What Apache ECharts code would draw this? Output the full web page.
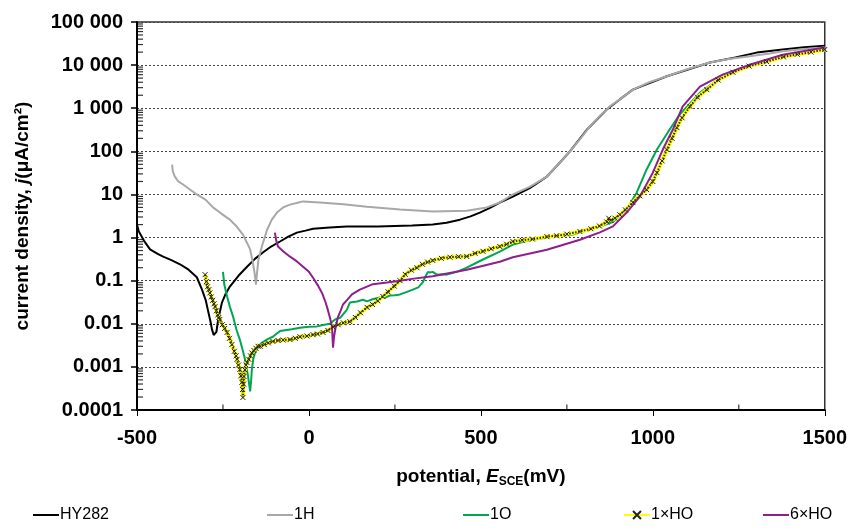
<!DOCTYPE html>
<html><head><meta charset="utf-8">
<script src="https://cdn.jsdelivr.net/npm/echarts@6/dist/echarts.min.js"></script>
<style>html,body{margin:0;padding:0;background:#fff}#c{width:850px;height:531px}</style>
</head><body><div id="c"></div>
<script>
// ---- data (potential mV, current density µA/cm²) ----
const hyE = [-500,-495,-480,-462,-440,-424,-400,-375,-350,-326,-311,-300,-294,-286,-282,-277,-273,-269,-265,-259,-253,-242,-230,-205,-180,-157,-134,-110,-84,-60,-35,-10,12,60,110,200,300,360,400,439,470,497,525,555,593,642,692,730,759,808,866,904,942,1041,1166,1240,1302,1378,1440,1500];
const hyJ = [2.0,1.4,0.85,0.53,0.42,0.36,0.30,0.24,0.18,0.12,0.062,0.035,0.021,0.011,0.0074,0.0055,0.005,0.0065,0.011,0.019,0.031,0.05,0.073,0.13,0.21,0.32,0.45,0.62,0.81,1.05,1.3,1.45,1.6,1.7,1.8,1.8,1.9,2.0,2.2,2.6,3.1,3.8,4.8,6.5,8.9,14,26,55,100,316,930,1600,2700,5500,11500,15000,19500,23000,26000,28000];

const h1E = [-398,-396,-390,-380,-366,-346,-326,-300,-279,-255,-230,-210,-192,-180,-171,-163,-158,-154,-151,-147,-137,-122,-108,-93,-75,-55,-30,-17,32,100,169,265,360,459,517,555,593,642,692,730,759,790,817,845,875,904,942,990,1041,1100,1166,1225,1282,1340,1378,1440,1500];
const h1J = [49,35,26,20,17,13,10,7.5,5,3.6,2.6,1.8,1.17,0.75,0.53,0.26,0.15,0.081,0.15,0.3,0.62,1.5,2.6,3.8,5.0,5.8,6.5,6.9,6.5,5.9,5.2,4.5,4.0,4.2,5.0,6.5,10,15,26,55,100,200,380,650,1100,1600,2700,4000,5500,8000,11500,14000,16000,18500,21000,23500,25700];

const oE = [-250,-246,-238,-230,-221,-210,-201,-193,-186,-177,-171,-168,-166,-162,-157,-147,-137,-120,-105,-84,-50,-26,0,23,45,61,76,92,110,119,140,157,169,185,206,220,235,250,265,285,302,318,331,340,346,352,360,372,390,401,430,459,506,555,593,642,692,767,837,884,924,953,982,1012,1049,1078,1100,1137,1203,1282,1378,1500];
const oJ = [0.16,0.08,0.043,0.025,0.015,0.007,0.0043,0.0025,0.0015,0.0006,0.00027,0.0005,0.00087,0.0015,0.0021,0.003,0.0036,0.0044,0.005,0.0068,0.0075,0.0081,0.0085,0.0087,0.0095,0.01,0.0126,0.014,0.021,0.031,0.033,0.036,0.033,0.037,0.041,0.04,0.045,0.046,0.048,0.055,0.062,0.07,0.091,0.13,0.16,0.155,0.16,0.138,0.14,0.138,0.16,0.2,0.31,0.47,0.69,0.87,1.0,1.17,1.7,2.3,4.5,11,38,110,320,710,1100,2300,5500,10200,15800,23000];

const hoE = [-302,-298,-295,-291,-288,-284,-280,-276,-273,-269,-265,-262,-259,-252,-245,-238,-231,-224,-217,-212,-209,-205,-201,-198,-195,-193,-192,-190,-189,-186,-183,-180,-175,-170,-166,-160,-154,-148,-142,-130,-118,-105,-90,-75,-55,-40,-26,-6,12,25,41,55,70,85,100,119,135,150,169,185,200,215,230,248,265,280,298,314,330,345,360,385,410,435,459,483,506,530,555,575,593,620,650,692,720,750,788,820,845,866,872,878,890,904,920,942,962,982,1000,1012,1027,1041,1056,1070,1085,1108,1130,1157,1190,1233,1280,1331,1380,1420,1460,1500];
const hoJ = [0.138,0.095,0.072,0.062,0.052,0.042,0.035,0.029,0.025,0.02,0.016,0.014,0.0126,0.0095,0.0078,0.0063,0.0046,0.0033,0.0023,0.0018,0.0015,0.0011,0.00087,0.00062,0.00044,0.0003,0.000195,0.0004,0.0006,0.00085,0.0011,0.00126,0.0015,0.0018,0.0021,0.0024,0.0027,0.003,0.003,0.0033,0.0036,0.0039,0.0041,0.0042,0.0043,0.0046,0.005,0.0052,0.0056,0.0058,0.0063,0.007,0.0085,0.0095,0.0105,0.0112,0.014,0.018,0.024,0.028,0.034,0.043,0.055,0.075,0.1,0.14,0.175,0.2,0.24,0.27,0.295,0.33,0.35,0.36,0.365,0.43,0.48,0.55,0.62,0.7,0.81,0.87,0.92,1.05,1.1,1.2,1.38,1.6,1.85,2.3,2.8,2.5,2.8,3.4,4.4,6.5,9.3,12.9,20,32,60,110,200,355,600,1100,1800,2700,4500,6800,9500,12000,15500,17800,20000,23000];

const sxE = [-99,-95,-90,-75,-55,-35,-17,0,12,25,38,48,55,62,67,70,73,78,84,92,99,110,125,148,186,227,265,300,360,459,555,593,692,788,846,884,924,962,1000,1029,1058,1087,1137,1203,1282,1378,1500];
const sxJ = [1.3,0.85,0.62,0.48,0.36,0.28,0.21,0.16,0.117,0.08,0.052,0.032,0.021,0.013,0.0087,0.0028,0.005,0.0087,0.014,0.02,0.028,0.035,0.048,0.062,0.083,0.091,0.1,0.11,0.126,0.18,0.275,0.35,0.52,0.89,1.32,1.82,3.8,8.9,32,110,316,1100,3160,6000,10200,17400,25700];

const seriesNames = ['HY282','1H','1O','1\u00d7HO','6\u00d7HO'];
const xTickMinor = [-250,250,750,1250];
const decades = [0.0001,0.001,0.01,0.1,1,10,100,1000,10000];
const yTickMinor = [];
decades.forEach(d => { for (let k = 2; k <= 9; k++) yTickMinor.push(Number((k * d).toPrecision(2))); });

const zip = (a, b) => a.map((v, i) => [v, b[i]]);
const FONT = 'Liberation Sans, Arial, sans-serif';
const xMark = 'path://M0,0L10,10M10,0L0,10';

function fmtY(v) {
  if (v >= 1) return String(Math.round(v)).replace(/\B(?=(\d{3})+(?!\d))/g, ' ');
  return String(Number(v.toPrecision(1)));
}

const chart = echarts.init(document.getElementById('c'), null, { renderer: 'canvas' });
const legendPos = [28, 262, 458, 618, 758];
const lineIcon = 'path://M0,0H26V2H0Z';
const option = {
  animation: false,
  backgroundColor: '#fff',
  grid: { left: 137, right: 25, top: 22, bottom: 121, show: true, borderColor: '#333', borderWidth: 1.5 },
  legend: seriesNames.map((n, i) => ({
    data: [i === 3 ? { name: n } : { name: n, icon: lineIcon }],
    left: legendPos[i], bottom: 3,
    itemWidth: 26, itemHeight: i === 3 ? 10 : 2, itemGap: 4,
    textStyle: { fontFamily: FONT, fontSize: 16, color: '#000', padding: [0, 0, 0, -4] }
  })),
  xAxis: {
    type: 'value', min: -500, max: 1500, interval: 500,
    axisLine: { show: true, onZero: false, lineStyle: { color: '#000', width: 2 } },
    axisTick: { show: true, length: 6, lineStyle: { color: '#000', width: 1 } },
    axisLabel: { fontFamily: FONT, fontSize: 20, fontWeight: 'bold', color: '#000', margin: 18, formatter: v => String(v) },
    splitLine: { show: false },
    name: '{b|potential, }{e|E}{s|SCE}{b|(mV)}',
    nameLocation: 'middle', nameGap: 56,
    nameTextStyle: {
      rich: {
        b: { fontFamily: FONT, fontSize: 19, fontWeight: 'bold', color: '#000' },
        e: { fontFamily: FONT, fontSize: 19, fontWeight: 'bold', fontStyle: 'italic', color: '#000' },
        s: { fontFamily: FONT, fontSize: 12, fontWeight: 'bold', color: '#000', padding: [10, 0, 0, 0] }
      }
    }
  },
  yAxis: {
    type: 'log', logBase: 10, min: 0.0001, max: 100000, splitNumber: 9,
    axisLine: { show: true, onZero: false, lineStyle: { color: '#000', width: 2 } },
    axisTick: { show: true, length: 6, lineStyle: { color: '#000', width: 1.5 } },
    axisLabel: { fontFamily: FONT, fontSize: 20, fontWeight: 'bold', color: '#000', margin: 14, formatter: fmtY },
    splitLine: { show: true, lineStyle: { color: '#444', width: 1, type: [2, 2] } },
    name: '{b|current density, }{i|j}{b|(\u03bcA/cm\u00b2)}',
    nameLocation: 'middle', nameGap: 105, nameRotate: 90,
    nameTextStyle: {
      rich: {
        b: { fontFamily: FONT, fontSize: 19, fontWeight: 'bold', color: '#000' },
        i: { fontFamily: FONT, fontSize: 19, fontWeight: 'bold', fontStyle: 'italic', color: '#000' }
      }
    }
  },
  series: [
    { name: seriesNames[0], type: 'line', data: zip(hyE, hyJ), symbol: 'none', lineStyle: { color: '#000', width: 2 }, itemStyle: { color: '#000' } },
    { name: seriesNames[1], type: 'line', data: zip(h1E, h1J), symbol: 'none', lineStyle: { color: '#a8a8a8', width: 2 }, itemStyle: { color: '#a8a8a8' } },
    { name: seriesNames[2], type: 'line', data: zip(oE, oJ), symbol: 'none', lineStyle: { color: '#00a651', width: 2 }, itemStyle: { color: '#00a651' } },
    { name: seriesNames[3], type: 'line', data: zip(hoE, hoJ), symbol: xMark, symbolSize: 5, showAllSymbol: true,
      lineStyle: { color: '#ffff00', width: 4 },
      itemStyle: { color: 'transparent', borderColor: '#222', borderWidth: 1 } },
    { name: 'ho-texture', type: 'line', data: zip(hoE, hoJ), symbol: 'none', silent: true,
      lineStyle: { color: '#2a2a10', width: 2, type: [1.5, 1.5] } },
    { name: seriesNames[4], type: 'line', data: zip(sxE, sxJ), symbol: 'none', lineStyle: { color: '#8e1f8d', width: 2 }, itemStyle: { color: '#8e1f8d' } },
    { name: 'y-minor-ticks', type: 'scatter', silent: true, clip: false, z: 10,
      data: yTickMinor.map(v => [-500, v]),
      symbol: 'rect', symbolSize: [5, 1.2], symbolOffset: [3.5, 0],
      itemStyle: { color: '#000' } },
    { name: 'x-minor-ticks', type: 'scatter', silent: true, clip: false, z: 10,
      data: xTickMinor.map(v => [v, 0.0001]),
      symbol: 'rect', symbolSize: [1.2, 5], symbolOffset: [0, -3],
      itemStyle: { color: '#000' } }
  ]
};
chart.setOption(option);
</script></body></html>
